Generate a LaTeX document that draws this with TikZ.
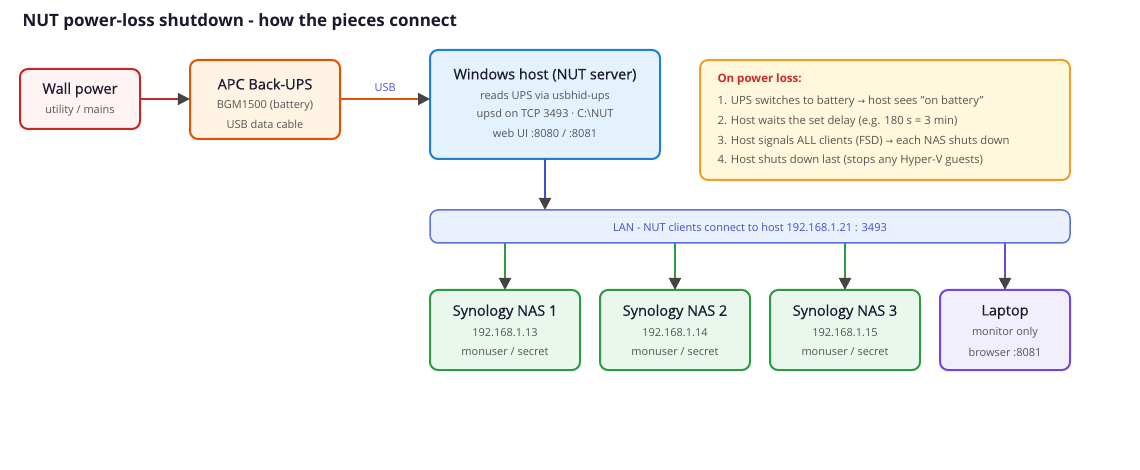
\documentclass[tikz,border=0pt]{standalone}
\usepackage{fontspec}
\setmainfont{Open Sans}
\newfontfamily\semib[FakeBold=0.5]{Open Sans}
\newfontfamily\symf{DejaVu Sans}
\newcommand{\rarr}{{\symf\fontsize{9}{11}\selectfont →}}
\usetikzlibrary{arrows.meta}
\definecolor{ink}{HTML}{1A1A2E}
\definecolor{sub}{HTML}{555555}
\definecolor{tipc}{HTML}{444444}
\definecolor{redB}{HTML}{C62828}\definecolor{redF}{HTML}{FFF4F4}
\definecolor{orB}{HTML}{E65100}\definecolor{orF}{HTML}{FFF3E3}
\definecolor{blB}{HTML}{1E7FD8}\definecolor{blF}{HTML}{E4F2FD}
\definecolor{lanB}{HTML}{5C72D8}\definecolor{lanF}{HTML}{EAF0FD}\definecolor{lanT}{HTML}{3F51C5}
\definecolor{grB}{HTML}{2E9A44}\definecolor{grF}{HTML}{EAF7EC}
\definecolor{puB}{HTML}{7048E0}\definecolor{puF}{HTML}{F2EFFD}
\definecolor{yeB}{HTML}{F0A028}\definecolor{yeF}{HTML}{FFF8DC}
\definecolor{lossT}{HTML}{D02828}
\definecolor{usbT}{HTML}{4A55D8}
\begin{document}
\begin{tikzpicture}[x=1pt,y=-1pt,
  box/.style={rounded corners=8pt,line width=2pt},
  ttl/.style={font=\semib\fontsize{14.5}{16}\selectfont,text=ink,anchor=center},
  st/.style={font=\fontsize{11}{13}\selectfont,text=sub,anchor=center},
  arr/.style={line width=2pt,-{Triangle[length=12pt,width=12pt,color=tipc]}}]
\useasboundingbox (0,0) rectangle (1140,470);
\fill[white] (0,0) rectangle (1140,470);
\node[anchor=west,font=\bfseries\fontsize{17}{19}\selectfont,text=ink] (title) at (19,22) {NUT power-loss shutdown - how the pieces connect};
% Wall power
\draw[box,draw=redB,fill=redF] (20,69) rectangle (140,129);
\node (wall) at (80,99) [minimum width=120pt,minimum height=60pt] {};
\node[ttl] at (80,90) {Wall power};
\node[st] at (80,111) {utility / mains};
% APC
\draw[box,draw=orB,fill=orF] (190,60) rectangle (340,139);
\node (apc) at (265,99) [minimum width=150pt,minimum height=79pt] {};
\node[ttl] at (265,84) {APC Back-UPS};
\node[st] at (265,106) {BGM1500 (battery)};
\node[st] at (265,124) {USB data cable};
% Host
\draw[box,draw=blB,fill=blF] (430,50) rectangle (660,159);
\node (host) at (545,104.5) [minimum width=230pt,minimum height=109pt,inner sep=0pt,outer sep=0pt] {};
\node[ttl] at (545,75) {Windows host (NUT server)};
\node[st] at (545,97) {reads UPS via usbhid-ups};
\node[st] at (545,115) {upsd on TCP 3493 · C:\textbackslash NUT};
\node[st] at (545,133) {web UI :8080 / :8081};
% info
\draw[box,draw=yeB,fill=yeF] (700,60) rectangle (1070,180);
\node[anchor=west,font=\bfseries\fontsize{11.5}{13}\selectfont,text=lossT] (loss) at (714,80) {On power loss:};
\begin{scope}[every node/.style={anchor=west,font=\fontsize{11.3}{13}\selectfont,text=sub}]
\node (l1) at (714,102) {1. UPS switches to battery \rarr{} host sees "on battery"};
\node (l2) at (714,122) {2. Host waits the set delay (e.g. 180 s = 3 min)};
\node (l3) at (714,142) {3. Host signals ALL clients (FSD) \rarr{} each NAS shuts down};
\node (l4) at (714,161) {4. Host shuts down last (stops any Hyper-V guests)};
\end{scope}
% LAN
\draw[box,draw=lanB,fill=lanF,line width=1.5pt] (430,210) rectangle (1070,243);
\node (lan) at (750,226.5) [minimum width=640pt,minimum height=33pt,inner sep=0pt,outer sep=0pt] {};
\node[font=\fontsize{11}{13}\selectfont,text=lanT] at (750,227) {LAN - NUT clients connect to host 192.168.1.21 : 3493};
% NAS
\foreach \n/\x/\ip in {1/505/13,2/675/14,3/845/15}{
  \draw[box,draw=grB,fill=grF] (\x-75,290) rectangle (\x+75,370);
  \node (nas\n) at (\x,330) [minimum width=150pt,minimum height=80pt,inner sep=0pt,outer sep=0pt] {};
  \node[ttl] at (\x,312) {Synology NAS \n};
  \node[st] at (\x,333) {192.168.1.\ip};
  \node[st] at (\x,352) {monuser / secret};
}
\draw[box,draw=puB,fill=puF] (940,290) rectangle (1070,370);
\node (lap) at (1005,330) [minimum width=130pt,minimum height=80pt,inner sep=0pt,outer sep=0pt] {};
\node[ttl] at (1005,312) {Laptop};
\node[st] at (1005,333) {monitor only};
\node[st] at (1005,352) {browser :8081};
% arrows
\draw[arr,draw=redB] (wall.east) -- (apc.west);
\draw[arr,draw=orB] (apc.east) -- node[above=3pt,font=\fontsize{11}{13}\selectfont,text=usbT] {USB} (host.west |- apc.east);
\draw[arr,draw=lanT] (host.south) -- (lan.north -| host.south);
\foreach \n/\x in {1/505,2/675,3/845}{
  \draw[arr,draw=grB] (lan.south -| nas\n.north) -- (nas\n.north);
}
\draw[arr,draw=puB] (lan.south -| lap.north) -- (lap.north);
\end{tikzpicture}
\end{document}
